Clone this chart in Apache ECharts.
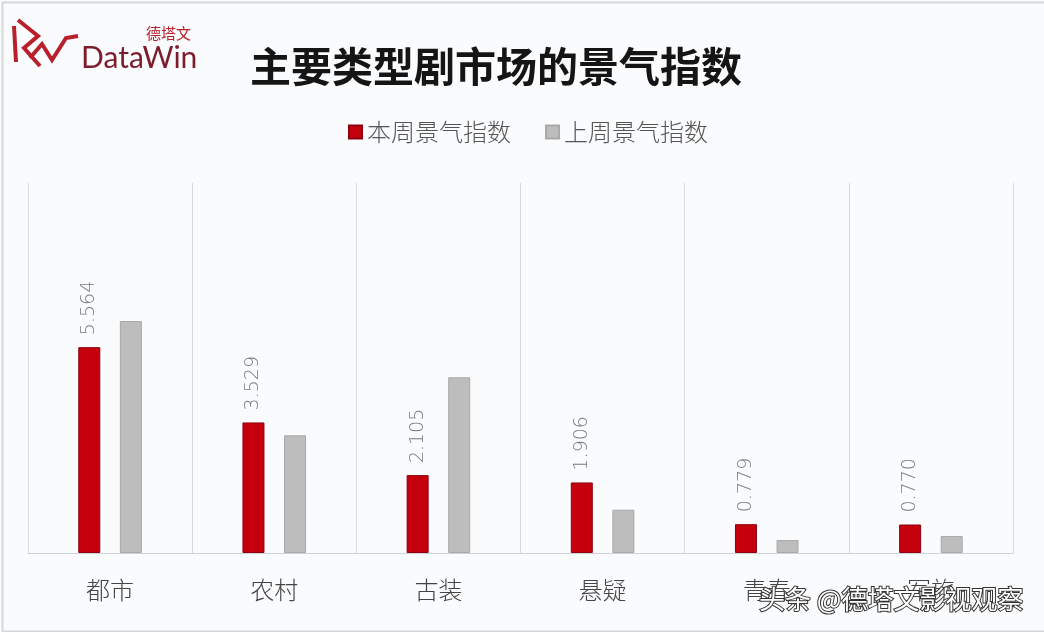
<!DOCTYPE html>
<html><head><meta charset="utf-8">
<script src="https://cdn.jsdelivr.net/npm/echarts@6/dist/echarts.min.js"></script>
<style>html,body{margin:0;padding:0;background:#fafbfd}#c{width:1044px;height:632px}</style>
</head><body><div id="c"></div>
<script>
const categories = ['都市', '农村', '古装', '悬疑', '青春', '军旅'];
const thisWeek = [5.564, 3.529, 2.105, 1.906, 0.779, 0.770];
const lastWeek = [6.27, 3.18, 4.75, 1.17, 0.35, 0.46];
const seriesNames = ['本周景气指数', '上周景气指数'];
const titleText = '主要类型剧市场的景气指数';

const chart = echarts.init(document.getElementById('c'));
const cjk = '"Noto Sans CJK SC", "Noto Sans", sans-serif';
chart.setOption({
  backgroundColor: '#fafbfd',
  animation: false,
  title: {
    text: titleText, top: 46, left: 250, padding: 0,
    textStyle: { fontFamily: cjk, fontSize: 41, fontWeight: 'bold', color: '#151515' }
  },
  legend: {
    top: 115, left: 343, itemWidth: 13, itemHeight: 13, itemGap: 34,
    icon: 'rect',
    textStyle: { fontFamily: cjk, fontSize: 24, color: '#555', fontWeight: 300 },
    data: seriesNames
  },
  grid: { left: 28, right: 31, top: 183, bottom: 79 },
  xAxis: {
    type: 'category', data: categories,
    axisLine: { show: true, lineStyle: { color: '#cfd2d6', width: 1 } },
    axisTick: { show: false },
    splitLine: { show: true, lineStyle: { color: '#d8dade', width: 1 } },
    axisLabel: { margin: 25, fontFamily: cjk, fontSize: 24, color: '#444', fontWeight: 300 }
  },
  yAxis: {
    type: 'value', min: 0, max: 10,
    show: false, splitLine: { show: false }
  },
  series: [
    {
      name: seriesNames[0], type: 'bar', data: thisWeek, barWidth: 22, barGap: '89%',
      itemStyle: { color: '#c3000c', borderColor: '#8e0010', borderWidth: 1 },
      label: {
        show: true, position: 'top', rotate: 90, align: 'left', verticalAlign: 'middle',
        distance: 12, color: '#7a7a7a', fontSize: 19, fontFamily: 'DejaVu Sans', fontWeight: 200,
        formatter: p => p.value.toFixed(3)
      }
    },
    {
      name: seriesNames[1], type: 'bar', data: lastWeek, barWidth: 22,
      itemStyle: { color: '#bdbdbd', borderColor: '#a9a9a9', borderWidth: 1 }
    }
  ],
  graphic: [
    { type: 'rect', left: 0, top: 0, z: -1, shape: { width: 1043, height: 629 },
      style: { fill: 'none', stroke: '#d6d7da', lineWidth: 2 } },
    // logo glyph
    { type: 'polyline', shape: { points: [[14, 26], [16, 62]] }, style: { stroke: '#b8202c', lineWidth: 4, fill: null } },
    { type: 'polyline', shape: { points: [[18, 20], [38, 36], [24, 48], [40, 66]] }, style: { stroke: '#b8202c', lineWidth: 4, fill: null } },
    { type: 'polyline', shape: { points: [[30, 58], [42, 44], [52, 60], [66, 38], [78, 36]] }, style: { stroke: '#b8202c', lineWidth: 4, fill: null } },
    { type: 'text', left: 81, top: 43, style: { text: 'DataWin', fontSize: 30, fontFamily: 'Lato, sans-serif', fill: '#7d1d2c' } },
    { type: 'text', left: 146, top: 26, style: { text: '德塔文', fontSize: 15, fontFamily: cjk, fill: '#b8202c' } },
    // watermark
    { type: 'text', left: 758, top: 585, z: 100, style: { text: '头条 @德塔文影视观察', fontSize: 26, fontFamily: cjk,
      fill: '#ffffff', stroke: '#333', lineWidth: 2 } }
  ]
});
</script>
</body></html>
